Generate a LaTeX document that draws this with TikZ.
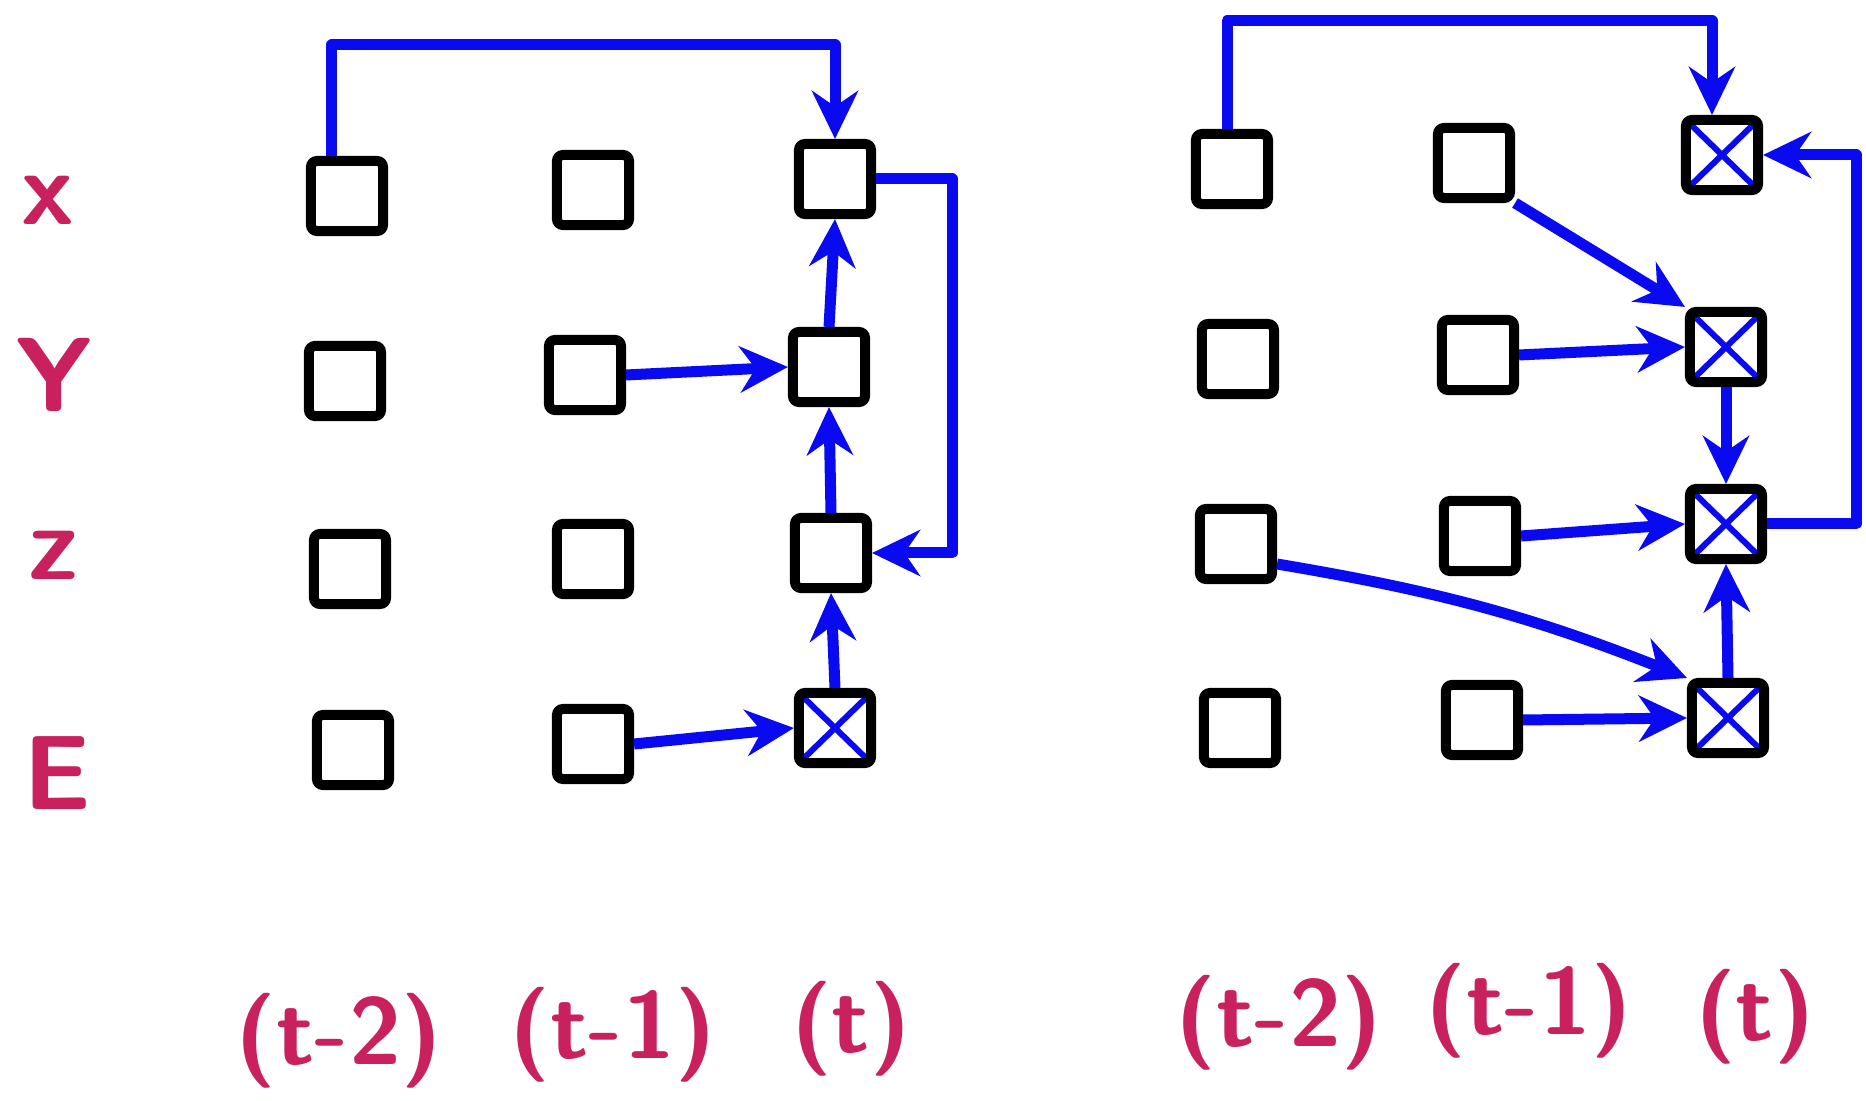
\documentclass[tikz,border=0pt]{standalone}
\usetikzlibrary{arrows.meta,calc}
\definecolor{ink}{HTML}{C8215E}
\definecolor{pen}{HTML}{0A0AF0}
\begin{document}
\begin{tikzpicture}[x=0.01cm,y=-0.01cm,
 box/.style={draw=black, line width=0.1cm, minimum width=0.72cm, minimum height=0.7cm, inner sep=0pt, rounded corners=0.06cm},
 crossed/.style={path picture={\draw[pen,line width=0.06cm] (path picture bounding box.south west)--(path picture bounding box.north east) (path picture bounding box.north west)--(path picture bounding box.south east);}},
 arr/.style={draw=pen, line width=0.11cm, line join=round, -{Stealth[length=0.48cm,width=0.46cm]}},
 lbl/.style={text=ink, font=\sffamily\bfseries\fontsize{30}{30}\selectfont},
 tlbl/.style={text=ink, font=\sffamily\bfseries\fontsize{27}{27}\selectfont}]
\useasboundingbox (0,0) rectangle (1866,1101);
% side labels
\node[lbl] (lx) at (48,200) {x};
\node[lbl] (ly) at (54,375) {Y};
\node[lbl] (lz) at (54,555) {z};
\node[lbl] (le) at (57,773) {E};
% left panel boxes
\node[box] (Lx2) at (347,196) {};
\node[box] (Ly2) at (345,381) {};
\node[box] (Lz2) at (350,569) {};
\node[box] (Le2) at (353,750) {};
\node[box] (Lx1) at (593,190) {};
\node[box] (Ly1) at (585,375) {};
\node[box] (Lz1) at (593,559) {};
\node[box] (Le1) at (593,744) {};
\node[box] (Lx0) at (835,179) {};
\node[box] (Ly0) at (829,367) {};
\node[box] (Lz0) at (831,553) {};
\node[box,crossed] (Le0) at (835,728) {};
% right panel boxes
\node[box] (Rx2) at (1232,169) {};
\node[box] (Ry2) at (1238,359) {};
\node[box] (Rz2) at (1236,544) {};
\node[box] (Re2) at (1240,728) {};
\node[box] (Rx1) at (1474,163) {};
\node[box] (Ry1) at (1478,355) {};
\node[box] (Rz1) at (1480,536) {};
\node[box] (Re1) at (1482,720) {};
\node[box,crossed] (Rx0) at (1722,155) {};
\node[box,crossed] (Ry0) at (1726,347) {};
\node[box,crossed] (Rz0) at (1726,524) {};
\node[box,crossed] (Re0) at (1728,718) {};
% bottom labels
\node[tlbl] (Lt2) at (339,1041) {(t-2)};
\node[tlbl] (Lt1) at (613,1035) {(t-1)};
\node[tlbl] (Lt0) at (851,1029) {(t)};
\node[tlbl] (Rt2) at (1279,1023) {(t-2)};
\node[tlbl] (Rt1) at (1529,1011) {(t-1)};
\node[tlbl] (Rt0) at (1755,1017) {(t)};
% helper coordinates
\coordinate (Ltop) at (0,45);
\coordinate (Lright) at (952,0);
\coordinate (Rtop) at (0,21);
\coordinate (Rright) at (1856,0);
% left arrows
\draw[arr] ([xshift=-0.15cm]Lx2.north) -- ([xshift=-0.15cm]Lx2.north |- Ltop) -| (Lx0.north);
\draw[arr] (Lx0.east) -- (Lx0.east -| Lright) |- (Lz0.east);
\draw[arr] (Ly1.east) -- (Ly0.west);
\draw[arr] (Le1.east) -- (Le0.west);
\draw[arr] (Ly0.north) -- (Lx0.south);
\draw[arr] (Lz0.north) -- (Ly0.south);
\draw[arr] (Le0.north) -- (Lz0.south);
% right arrows
\draw[arr] ([xshift=-0.05cm]Rx2.north) -- ([xshift=-0.05cm]Rx2.north |- Rtop) -| ([xshift=-0.1cm]Rx0.north);
\draw[arr] (Rz0.east) -- (Rz0.east -| Rright) |- (Rx0.east);
\draw[arr] (Rx1.south east) -- (Ry0.north west);
\draw[arr] (Ry1.east) -- (Ry0.west);
\draw[arr] (Ry0.south) -- (Rz0.north);
\draw[arr] (Rz1.east) -- (Rz0.west);
\draw[arr] (Re0.north) -- (Rz0.south);
\draw[arr] ([yshift=-0.2cm]Rz2.east) to[bend left=6] (Re0.north west);
\draw[arr] (Re1.east) -- (Re0.west);
\end{tikzpicture}
\end{document}
